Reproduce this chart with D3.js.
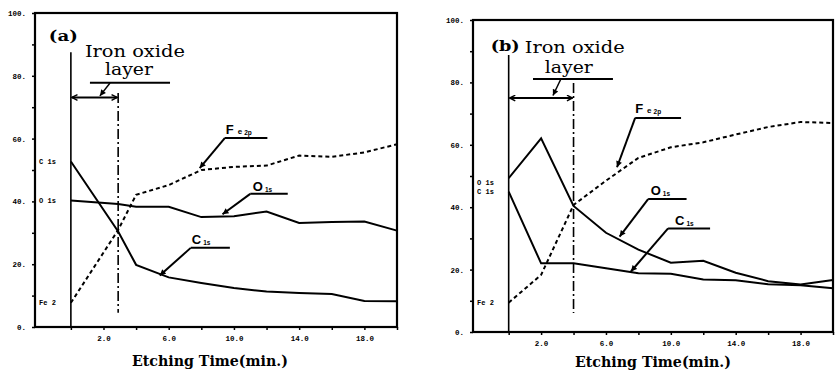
<!DOCTYPE html>
<html>
<head>
<meta charset="utf-8">
<script src="https://cdn.jsdelivr.net/npm/d3@7"></script>
<style>
  body { margin: 0; background: #fff; }
  svg { display: block; }
</style>
</head>
<body>
<svg id="chart" width="838" height="380"></svg>
<script>
// ---------- Data ----------
const timeA = [0, 2.9, 4, 6, 8, 10, 12, 14, 16, 18, 20];
const o1sA  = [40.3, 39.2, 38.3, 38.3, 35.0, 35.3, 36.8, 33.1, 33.4, 33.6, 30.7];
const c1sA  = [52.7, 30.4, 19.8, 15.8, 14.0, 12.4, 11.3, 10.8, 10.5, 8.3, 8.2];
const fe2pA = [7.7, 30.9, 42.1, 45.2, 50.0, 51.0, 51.4, 54.6, 54.2, 55.6, 58.2];

const timeB = [0, 2, 4, 6, 8, 10, 12, 14, 16, 18, 20];
const o1sB  = [49.3, 62.1, 40.4, 31.8, 26.4, 22.2, 22.8, 19.0, 16.3, 15.2, 16.7];
const c1sB  = [45.0, 22.0, 22.0, 20.4, 18.8, 18.7, 16.8, 16.6, 15.3, 15.0, 14.0];
const fe2pB = [9.4, 18.3, 40.7, 48.5, 55.8, 59.2, 60.8, 63.3, 65.7, 67.3, 67.0];

const yTickValues = [0, 20, 40, 60, 80, 100];
const yTickLabels = ['0.', '20.', '40.', '60.', '80.', '100.'];
const xTickValues = [2, 6, 10, 14, 18];
const xTickLabels = ['2.0', '6.0', '10.0', '14.0', '18.0'];
const xDomain = [-2.2, 20];

// ---------- Panels (annotation anchors are in data units) ----------
const panels = [
  {
    tag: '(a)', time: timeA, o1s: o1sA, c1s: c1sA, fe2p: fe2pA, layerEnd: 2.9,
    left: 35, right: 397, top: 13, bottom: 327,
    tagPos: [-1.35, 91.0], ironPos: [0.86, 86.1], layerPos: [3.56, 80.3],
    underline: [1.17, 6.08, 77.8], arrowV: 73.1, pointer: [2.4, 77.7, 1.78, 73.6],
    solidTop: 87.5, dashTop: 74.5, dashBottom: 4.5,
    tags: [
      { main: 'F', sub1: 'e', sub2: '2p', pos: [9.5, 61.4], line: [9.45, 12.05, 60.2], to: [7.9, 50.6] },
      { main: 'O', sub2: '1s', pos: [11.16, 43.4], line: [11.0, 13.3, 42.4], to: [9.3, 35.9] },
      { main: 'C', sub2: '1s', pos: [7.42, 26.3], line: [7.35, 9.75, 25.2], to: [5.45, 16.4] }
    ],
    sideLabels: [['C 1s', c1sA[0]], ['O 1s', o1sA[0]], ['Fe 2', fe2pA[0]]],
    title: 'Etching Time(min.)', titleT: 8.53, titleY: 366
  },
  {
    tag: '(b)', time: timeB, o1s: o1sB, c1s: c1sB, fe2p: fe2pB, layerEnd: 4,
    left: 473, right: 833, top: 20, bottom: 332,
    tagPos: [-1.11, 90.1], ironPos: [0.99, 89.4], layerPos: [3.71, 83.0],
    underline: [1.5, 6.43, 81.1], arrowV: 75.0, pointer: [3.22, 81.1, 2.73, 75.8],
    solidTop: 88.8, dashTop: 79.8, dashBottom: 6.1,
    tags: [
      { main: 'F', sub1: 'e', sub2: '2p', pos: [7.8, 70.1], line: [7.8, 10.63, 68.6], to: [6.68, 52.8] },
      { main: 'O', sub2: '1s', pos: [8.76, 43.9], line: [8.6, 10.97, 42.6], to: [6.84, 30.6] },
      { main: 'C', sub2: '1s', pos: [10.26, 34.3], line: [9.83, 12.42, 33.2], to: [7.54, 19.4] }
    ],
    sideLabels: [['O 1s', o1sB[0] - 1.5], ['C 1s', c1sB[0]], ['Fe 2', fe2pB[0]]],
    title: 'Etching Time(min.)', titleT: 8.9, titleY: 367
  }
];

const svg = d3.select('#chart');
const MONO = "'Liberation Mono', 'DejaVu Sans Mono', monospace";
const SANS = "'Liberation Sans', Arial, sans-serif";
const SLAB = "'DejaVu Serif', serif";

// ---------- Markers ----------
const defs = svg.append('defs');
defs.append('marker')
    .attr('id', 'solidHead')
    .attr('viewBox', '0 0 10 10')
    .attr('refX', 10).attr('refY', 5)
    .attr('markerWidth', 8).attr('markerHeight', 6)
    .attr('markerUnits', 'userSpaceOnUse')
    .attr('orient', 'auto')
  .append('path')
    .attr('d', 'M0,0 L10,5 L0,10 Z')
    .attr('fill', '#000');
defs.append('marker')
    .attr('id', 'openHead')
    .attr('viewBox', '0 0 10 10')
    .attr('refX', 9).attr('refY', 5)
    .attr('markerWidth', 7).attr('markerHeight', 7)
    .attr('markerUnits', 'userSpaceOnUse')
    .attr('orient', 'auto-start-reverse')
  .append('path')
    .attr('d', 'M1,1 L9,5 L1,9')
    .attr('fill', 'none')
    .attr('stroke', '#000')
    .attr('stroke-width', 2);

// ---------- Drawing ----------
function drawPanel(p) {
    const x = d3.scaleLinear().domain(xDomain).range([p.left, p.right]);
    const y = d3.scaleLinear().domain([0, 100]).range([p.bottom, p.top]);
    const g = svg.append('g');

    // minor + major ticks
    g.append('g')
        .attr('transform', `translate(${p.left},0)`)
        .call(d3.axisLeft(y).tickValues(d3.range(0, 101, 10)).tickSize(3).tickFormat(''))
        .call(a => a.select('.domain').remove());
    g.append('g')
        .attr('transform', `translate(${p.left},0)`)
        .call(d3.axisLeft(y).tickValues(yTickValues).tickSize(0).tickPadding(9)
            .tickFormat((d, i) => yTickLabels[i]))
        .call(a => a.select('.domain').remove());
    g.append('g')
        .attr('transform', `translate(0,${p.bottom})`)
        .call(d3.axisBottom(x).tickValues(d3.range(0, 21, 2)).tickSize(3).tickFormat(''))
        .call(a => a.select('.domain').remove());
    g.append('g')
        .attr('transform', `translate(0,${p.bottom})`)
        .call(d3.axisBottom(x).tickValues(xTickValues).tickSize(0).tickPadding(9)
            .tickFormat((d, i) => xTickLabels[i]))
        .call(a => a.select('.domain').remove());
    g.selectAll('.tick line').attr('stroke', '#000').attr('stroke-width', 1.5);
    g.selectAll('.tick text')
        .attr('font-family', MONO).attr('font-weight', 'bold')
        .attr('font-size', 7.5).attr('fill', '#000');

    // frame
    g.append('rect')
        .attr('x', p.left).attr('y', p.top)
        .attr('width', p.right - p.left).attr('height', p.bottom - p.top)
        .attr('fill', 'none').attr('stroke', '#000').attr('stroke-width', 2.2);

    // layer boundaries
    g.append('line')
        .attr('x1', x(0)).attr('x2', x(0))
        .attr('y1', y(p.solidTop)).attr('y2', y(0))
        .attr('stroke', '#000').attr('stroke-width', 1.6);
    g.append('line')
        .attr('x1', x(p.layerEnd)).attr('x2', x(p.layerEnd))
        .attr('y1', y(p.dashTop)).attr('y2', y(p.dashBottom))
        .attr('stroke', '#000').attr('stroke-width', 1.6)
        .attr('stroke-dasharray', '10,3,2,3');

    // series
    const line = d3.line()
        .x((d, i) => x(p.time[i]))
        .y(d => y(d));
    g.append('path').datum(p.o1s).attr('d', line)
        .attr('fill', 'none').attr('stroke', '#000').attr('stroke-width', 2);
    g.append('path').datum(p.c1s).attr('d', line)
        .attr('fill', 'none').attr('stroke', '#000').attr('stroke-width', 2);
    g.append('path').datum(p.fe2p).attr('d', line)
        .attr('fill', 'none').attr('stroke', '#000').attr('stroke-width', 2)
        .attr('stroke-dasharray', '4,3');

    // side labels at start values
    g.selectAll('text.side')
        .data(p.sideLabels)
        .join('text')
        .attr('class', 'side')
        .attr('x', x(-1.95))
        .attr('y', d => y(d[1]))
        .attr('dy', '0.35em')
        .attr('font-family', MONO).attr('font-weight', 'bold')
        .attr('font-size', 7).attr('xml:space', 'preserve')
        .text(d => d[0]);

    // panel tag
    g.append('text')
        .attr('x', x(p.tagPos[0])).attr('y', y(p.tagPos[1]))
        .attr('font-family', SLAB).attr('font-weight', 'bold').attr('font-size', 15)
        .attr('textLength', 29).attr('lengthAdjust', 'spacingAndGlyphs')
        .text(p.tag);

    // layer annotation (two lines in one text)
    const note = g.append('text')
        .attr('font-family', SLAB).attr('font-size', 16);
    note.append('tspan')
        .attr('x', x(p.ironPos[0])).attr('y', y(p.ironPos[1]))
        .attr('textLength', 100).attr('lengthAdjust', 'spacingAndGlyphs')
        .text('Iron oxide');
    note.append('tspan')
        .attr('x', x(p.layerPos[0]) - 24).attr('y', y(p.layerPos[1]))
        .attr('textLength', 48).attr('lengthAdjust', 'spacingAndGlyphs')
        .text('layer');
    g.append('line')
        .attr('x1', x(p.underline[0])).attr('x2', x(p.underline[1]))
        .attr('y1', y(p.underline[2])).attr('y2', y(p.underline[2]))
        .attr('stroke', '#000').attr('stroke-width', 2);
    g.append('line')
        .attr('x1', x(0) + 1).attr('x2', x(p.layerEnd) - 1)
        .attr('y1', y(p.arrowV)).attr('y2', y(p.arrowV))
        .attr('stroke', '#000').attr('stroke-width', 2)
        .attr('marker-start', 'url(#openHead)').attr('marker-end', 'url(#openHead)');
    g.append('line')
        .attr('x1', x(p.pointer[0])).attr('y1', y(p.pointer[1]))
        .attr('x2', x(p.pointer[2])).attr('y2', y(p.pointer[3]))
        .attr('stroke', '#000').attr('stroke-width', 1.5)
        .attr('marker-end', 'url(#solidHead)');

    // series tags with leader lines
    p.tags.forEach(t => {
        const txt = g.append('text')
            .attr('x', x(t.pos[0])).attr('y', y(t.pos[1]))
            .attr('font-family', SANS).attr('font-weight', 'bold');
        txt.append('tspan').attr('font-size', 13).text(t.main);
        if (t.sub1) txt.append('tspan').attr('font-size', 8).attr('dx', 4).text(t.sub1);
        txt.append('tspan').attr('font-size', 6.5).attr('dx', 2).attr('dy', 1).text(t.sub2);
        g.append('line')
            .attr('x1', x(t.line[0])).attr('x2', x(t.line[1]))
            .attr('y1', y(t.line[2])).attr('y2', y(t.line[2]))
            .attr('stroke', '#000').attr('stroke-width', 2);
        g.append('line')
            .attr('x1', x(t.line[0])).attr('y1', y(t.line[2]))
            .attr('x2', x(t.to[0])).attr('y2', y(t.to[1]))
            .attr('stroke', '#000').attr('stroke-width', 2)
            .attr('marker-end', 'url(#solidHead)');
    });

    // axis title
    g.append('text')
        .attr('x', x(p.titleT)).attr('y', p.titleY)
        .attr('text-anchor', 'middle')
        .attr('font-family', SLAB).attr('font-weight', 'bold').attr('font-size', 14)
        .attr('textLength', 156).attr('lengthAdjust', 'spacingAndGlyphs')
        .text(p.title);
}

panels.forEach(drawPanel);
</script>
</body>
</html>
